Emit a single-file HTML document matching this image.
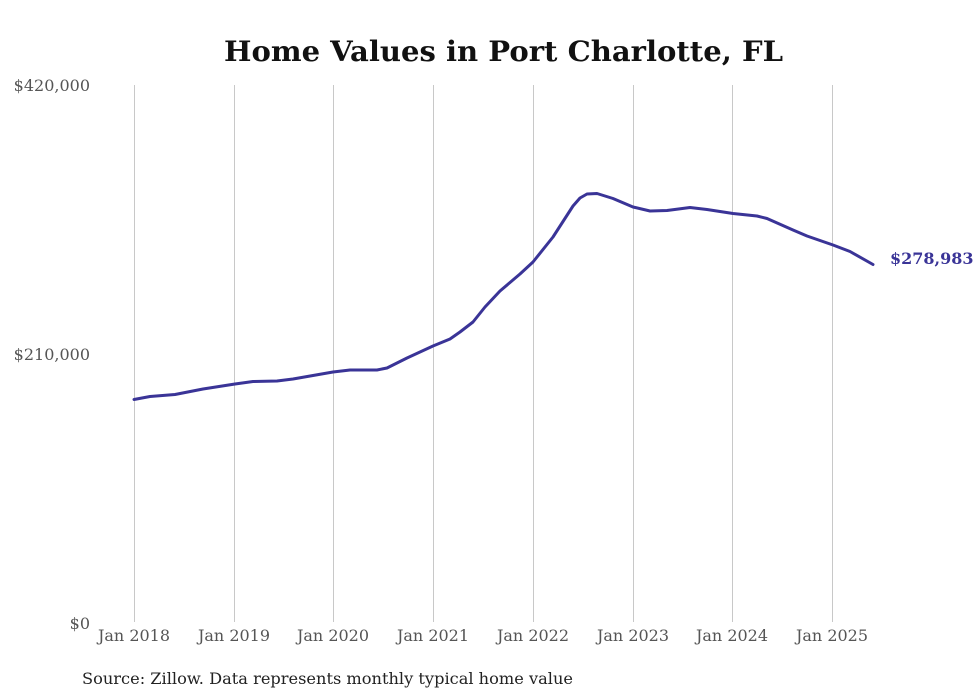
<!DOCTYPE html>
<html>
<head>
<meta charset="utf-8">
<style>
  html, body { margin: 0; padding: 0; background: #ffffff; }
  svg { display: block; }
  text { font-family: "DejaVu Serif", "Liberation Serif", serif; }
</style>
</head>
<body>
<svg width="980" height="699" viewBox="0 0 980 699" xmlns="http://www.w3.org/2000/svg">
  <rect x="0" y="0" width="980" height="699" fill="#ffffff"/>

  <!-- Title -->
  <text x="224" y="61" font-size="28" font-weight="bold" fill="#111111" textLength="559" lengthAdjust="spacingAndGlyphs">Home Values in Port Charlotte, FL</text>

  <!-- Vertical gridlines -->
  <g stroke="#c8c8c8" stroke-width="1">
    <line x1="134.5" y1="85" x2="134.5" y2="622"/>
    <line x1="234.5" y1="85" x2="234.5" y2="622"/>
    <line x1="333.5" y1="85" x2="333.5" y2="622"/>
    <line x1="433.5" y1="85" x2="433.5" y2="622"/>
    <line x1="533.5" y1="85" x2="533.5" y2="622"/>
    <line x1="633.5" y1="85" x2="633.5" y2="622"/>
    <line x1="732.5" y1="85" x2="732.5" y2="622"/>
    <line x1="832.5" y1="85" x2="832.5" y2="622"/>
  </g>

  <!-- Y axis labels -->
  <g font-size="16" fill="#555555" text-anchor="end">
    <text x="90" y="91">$420,000</text>
    <text x="90" y="360">$210,000</text>
    <text x="90" y="629">$0</text>
  </g>

  <!-- X axis labels -->
  <g font-size="16" fill="#555555" text-anchor="middle">
    <text x="134" y="641">Jan 2018</text>
    <text x="234" y="641">Jan 2019</text>
    <text x="333" y="641">Jan 2020</text>
    <text x="433" y="641">Jan 2021</text>
    <text x="533" y="641">Jan 2022</text>
    <text x="633" y="641">Jan 2023</text>
    <text x="732" y="641">Jan 2024</text>
    <text x="832" y="641">Jan 2025</text>
  </g>

  <!-- Series line -->
  <polyline fill="none" stroke="#3a3497" stroke-width="3" stroke-linejoin="round" stroke-linecap="round"
    points="134,399.5 150,396.5 175,394.5 203,389 235,384 253,381.5 277,381 293,379 333,372 350,370 377,370 387,368 407,358 433,346 450,339 460,332 473,322 485,307 500,291 520,274 533,262 553,237 573,206 580,198 587,194 597,193.5 613,198.5 633,207 650,211 667,210.5 690,207.5 707,209.5 733,213.5 757,216 767,218.5 793,230 807,236 833,245 850,251.5 873,264.5"/>

  <!-- End label -->
  <text x="890" y="264" font-size="16" font-weight="bold" fill="#3a3497">$278,983</text>

  <!-- Source -->
  <text x="82" y="684" font-size="16" fill="#222222" textLength="491" lengthAdjust="spacingAndGlyphs">Source: Zillow. Data represents monthly typical home value</text>
</svg>
</body>
</html>
